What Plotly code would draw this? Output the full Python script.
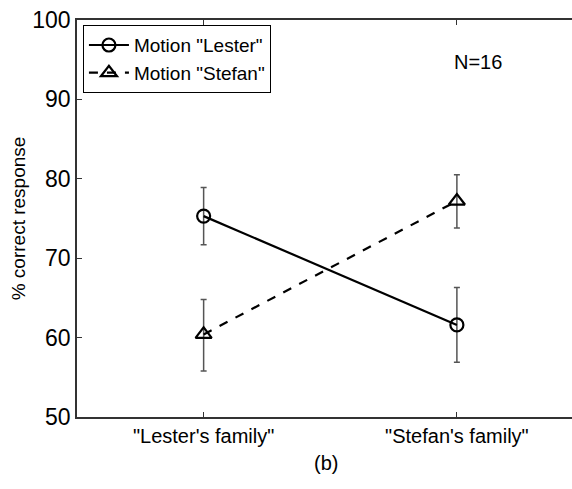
import plotly.graph_objects as go

categories = ['"Lester\'s family"', '"Stefan\'s family"']
cat_pos = [0, 1]
lester_vals = [75.3, 61.6]
lester_err_plus = [3.6, 4.7]
lester_err_minus = [3.6, 4.7]
stefan_vals = [60.4, 77.2]
stefan_err_plus = [4.4, 3.3]
stefan_err_minus = [4.6, 3.4]

font = "Liberation Sans, Arial, Helvetica, sans-serif"

fig = go.Figure()
fig.add_trace(go.Scatter(
    x=cat_pos, y=lester_vals, name='Motion "Lester"', mode="lines+markers",
    line=dict(color="black", width=2.2, dash="solid"),
    marker=dict(symbol="circle-open", size=13, color="black", line=dict(width=2.2)),
    error_y=dict(type="data", symmetric=False, array=lester_err_plus, arrayminus=lester_err_minus,
                 color="#555555", thickness=1.5, width=3),
))
fig.add_trace(go.Scatter(
    x=cat_pos, y=stefan_vals, name='Motion "Stefan"', mode="lines+markers",
    line=dict(color="black", width=2.2, dash="dash"),
    marker=dict(symbol="triangle-up-open", size=14, color="black", line=dict(width=2.2)),
    error_y=dict(type="data", symmetric=False, array=stefan_err_plus, arrayminus=stefan_err_minus,
                 color="#555555", thickness=1.5, width=3),
))

fig.update_layout(
    width=572, height=489,
    margin=dict(l=77, r=0, t=20, b=72),
    paper_bgcolor="white", plot_bgcolor="white",
    font=dict(family=font, size=20, color="black"),
    showlegend=True,
    legend=dict(x=0.012, y=0.987, xanchor="left", yanchor="top",
                bordercolor="black", borderwidth=1, bgcolor="white",
                font=dict(size=19), itemwidth=40, tracegroupgap=0),
    xaxis=dict(range=[-0.5, 1.4545], tickvals=cat_pos, ticktext=categories,
               showline=True, linecolor="#333333", linewidth=1.5, mirror="ticks",
               ticks="inside", ticklen=5, tickcolor="#333333", showgrid=False, zeroline=False,
               tickfont=dict(size=20)),
    yaxis=dict(range=[50, 100], tickvals=[50, 60, 70, 80, 90, 100],
               showline=True, linecolor="#333333", linewidth=1.5,
               ticks="inside", ticklen=5, tickcolor="#333333", showgrid=False, zeroline=False,
               title=dict(text="% correct response", font=dict(size=19), standoff=2),
               tickfont=dict(size=23)),
    annotations=[
        dict(text="N=16", x=0.81, y=0.895, xref="paper", yref="paper", showarrow=False,
             font=dict(size=20), xanchor="center", yanchor="middle"),
        dict(text="(b)", x=(326 - 77) / 495, y=-0.115, xref="paper", yref="paper",
             showarrow=False, font=dict(size=20), xanchor="center", yanchor="middle"),
    ],
)

fig.write_html("out.html")
